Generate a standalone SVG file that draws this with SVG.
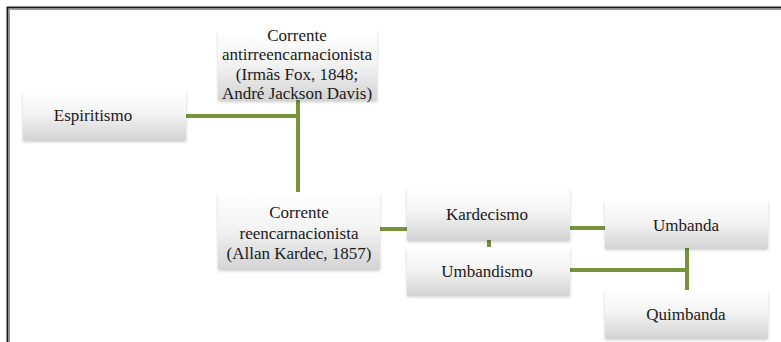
<svg xmlns="http://www.w3.org/2000/svg" width="781" height="342" viewBox="0 0 781 342">
<defs>
<linearGradient id="g" x1="0" y1="0" x2="0" y2="1">
<stop offset="0" stop-color="#ffffff"/>
<stop offset="0.45" stop-color="#f4f4f4"/>
<stop offset="1" stop-color="#d4d4d4"/>
</linearGradient>
<filter id="sh" x="-10%" y="-10%" width="120%" height="130%">
<feDropShadow dx="0" dy="2" stdDeviation="1.5" flood-color="#000" flood-opacity="0.2"/>
</filter>
</defs>
<style>
.box{fill:url(#g);filter:url(#sh)}
.t{font-family:"Liberation Serif","Times New Roman",serif;font-size:17px;fill:#1a1a1a;text-anchor:middle}
.c{stroke:#77933c;stroke-width:4;fill:none}
</style>
<rect width="781" height="342" fill="#fff"/>
<g id="frame">
<path d="M7.5 342 V7.5 H781" fill="none" stroke="#1a1a1a" stroke-width="2"/>
<path d="M9.5 342 V9.5 H781" fill="none" stroke="#9a9a9a" stroke-width="1"/>
</g>
<g id="connectors">
<path class="c" d="M186 116 H298"/>
<path class="c" d="M298 100 V192"/>
<path class="c" d="M380 229 H407"/>
<path class="c" d="M489 240 V247"/>
<path class="c" d="M570 228 H605"/>
<path class="c" d="M570 270 H687"/>
<path class="c" d="M687 248 V290"/>
</g>
<g id="espiritismo">
<rect class="box" x="23" y="90" width="163" height="50"/>
<text class="t" x="93" y="121">Espiritismo</text>
</g>
<g id="antirreencarnacionista">
<rect class="box" x="218" y="30" width="159" height="70"/>
<text class="t" x="297" y="41">Corrente</text>
<text class="t" x="297" y="60">antirreencarnacionista</text>
<text class="t" x="297" y="80">(Irmãs Fox, 1848;</text>
<text class="t" x="297" y="99">André Jackson Davis)</text>
</g>
<g id="reencarnacionista">
<rect class="box" x="218" y="192" width="162" height="77"/>
<text class="t" x="299" y="218">Corrente</text>
<text class="t" x="299" y="239">reencarnacionista</text>
<text class="t" x="299" y="259">(Allan Kardec, 1857)</text>
</g>
<g id="kardecismo">
<rect class="box" x="407" y="188" width="163" height="52"/>
<text class="t" x="487" y="220">Kardecismo</text>
</g>
<g id="umbandismo">
<rect class="box" x="407" y="247" width="163" height="48"/>
<text class="t" x="487" y="277">Umbandismo</text>
</g>
<g id="umbanda">
<rect class="box" x="605" y="200" width="163" height="48"/>
<text class="t" x="686" y="231">Umbanda</text>
</g>
<g id="quimbanda">
<rect class="box" x="605" y="290" width="163" height="48"/>
<text class="t" x="686" y="320">Quimbanda</text>
</g>
</svg>
